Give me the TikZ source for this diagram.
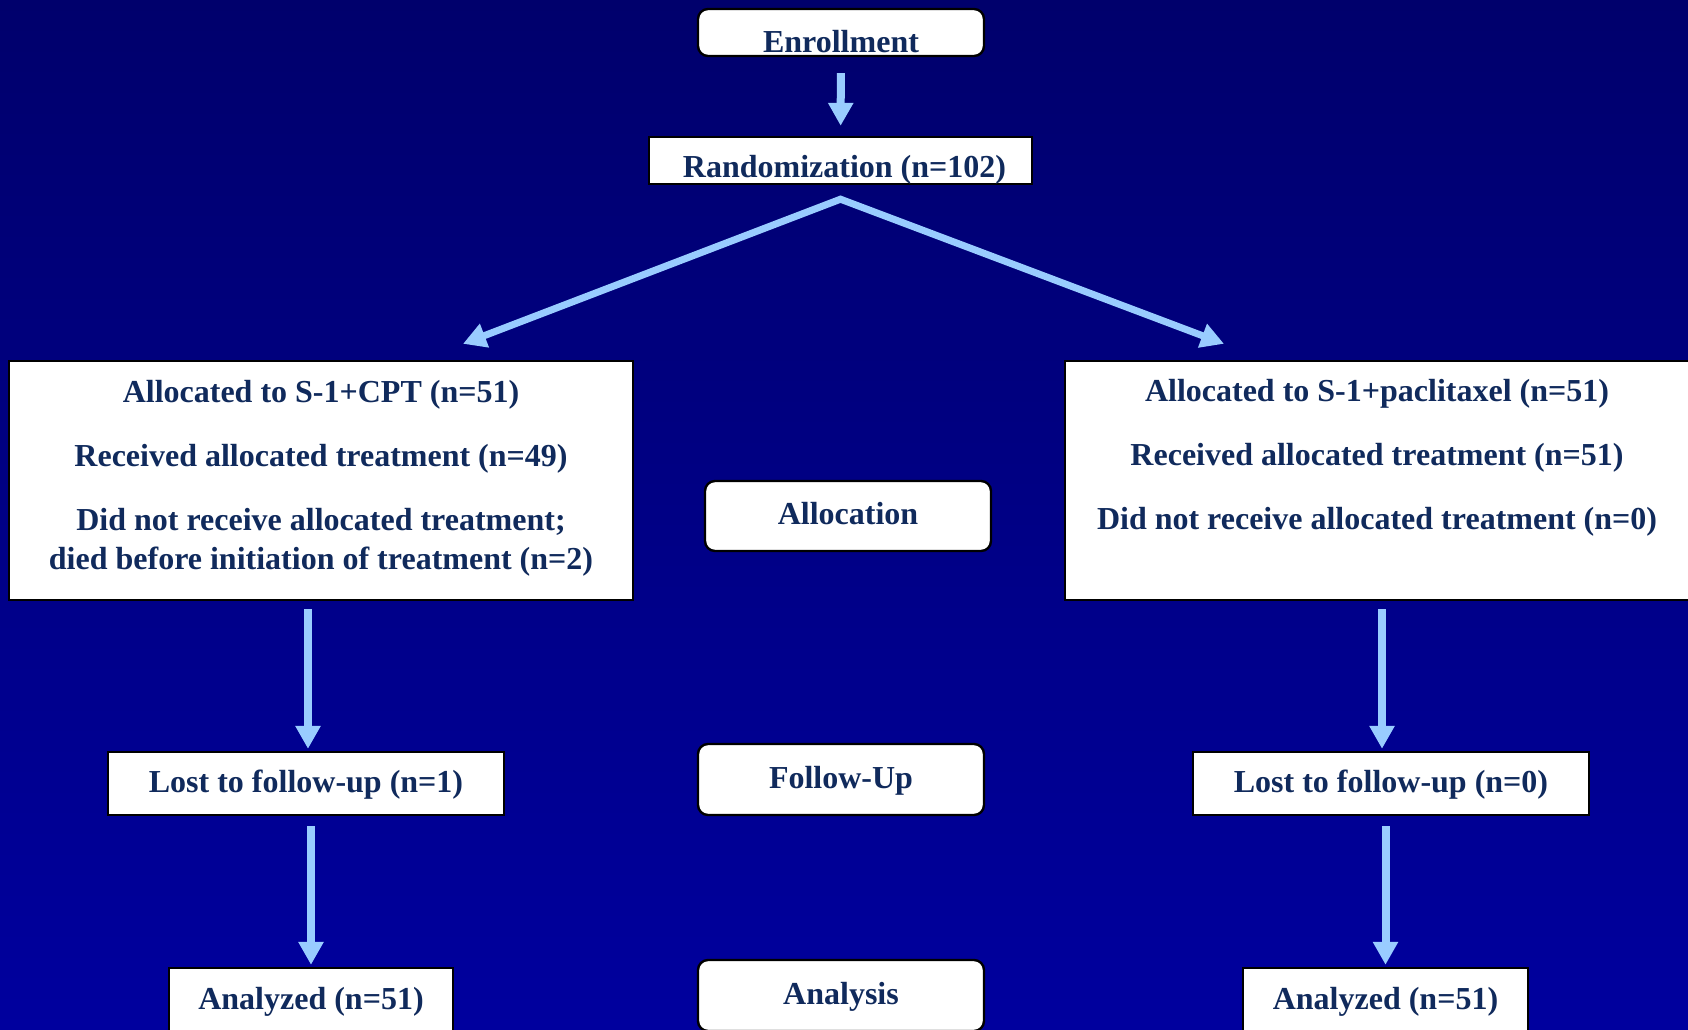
\documentclass[tikz,border=0pt]{standalone}
\usepackage{fontspec}
\setmainfont{Liberation Serif}
\usetikzlibrary{arrows.meta,calc}

\definecolor{bgtop}{RGB}{0,0,108}
\definecolor{bgbottom}{RGB}{0,0,158}
\definecolor{navytext}{RGB}{16,42,92}
\definecolor{flowblue}{RGB}{153,204,255}

\begin{document}
\begin{tikzpicture}[x=0.5pt,y=-0.5pt,
        box/.style={draw=black,line width=1.2pt,fill=white,text=navytext,inner sep=0pt,
            font=\fontsize{16}{19.5}\selectfont\bfseries},
        stage/.style={box,rounded corners=5pt},
        flow/.style={draw=flowblue,line width=4pt,-{Triangle[width=12pt,length=11.5pt]}}]

            \useasboundingbox (0,0) rectangle (1688,1029);
            \clip (0,0) rectangle (1688,1029);
            \shade[top color=bgtop,bottom color=bgbottom] (0,0) rectangle (1688,1029);

            \node[stage,minimum width=143pt,minimum height=23.5pt,text height=19.5pt,text depth=0pt] (enroll) at (841,32.5) {Enrollment};
            \node[box,minimum width=191.5pt,minimum height=23.5pt,text height=18pt,text depth=1.5pt] (rand) at (840.5,160.5) {\hspace*{4pt}Randomization (n=102)};

            \node[box,minimum width=312pt,minimum height=119.5pt,align=center,text depth=5.6pt] (cpt) at (321,480.5)
                {Allocated to S-1+CPT (n=51)\\[12.5pt] Received allocated treatment (n=49)\\[12.5pt]
                 Did not receive allocated treatment;\\ died before initiation of treatment (n=2)};
            \node[box,minimum width=312pt,minimum height=119.5pt,align=center,text depth=6.4pt] (ptx) at (1377,480.5)
                {Allocated to S-1+paclitaxel (n=51)\\[12.5pt] Received allocated treatment (n=51)\\[12.5pt]
                 Did not receive allocated treatment (n=0)\\ \mbox{}};

            \node[stage,minimum width=143pt,minimum height=35pt,text height=11.5pt,text depth=3pt] (alloc) at (848,516) {Allocation};
            \node[stage,minimum width=143pt,minimum height=35.5pt,text height=11.5pt,text depth=3pt] (follow) at (841,779.5) {Follow-Up};
            \node[stage,minimum width=143pt,minimum height=35.5pt,text height=11.5pt,text depth=3pt] (analysis) at (841,995.5) {Analysis};

            \node[box,minimum width=198pt,minimum height=31.5pt,text height=12pt,text depth=3pt] (lostcpt) at (306,783.5) {Lost to follow-up (n=1)};
            \node[box,minimum width=198pt,minimum height=31.5pt,text height=12pt,text depth=3pt] (lostptx) at (1391,783.5) {Lost to follow-up (n=0)};
            \node[box,minimum width=142pt,minimum height=31.5pt,text height=13pt,text depth=3pt] (anacpt) at (311,999.5) {Analyzed (n=51)};
            \node[box,minimum width=142.5pt,minimum height=31.5pt,text height=13pt,text depth=3pt] (anaptx) at (1385.5,999.5) {Analyzed (n=51)};

            \coordinate (split) at ($(rand.south)+(0,14)$);
            \coordinate (tipcpt) at ($(cpt.north)+(142,-16)$);
            \coordinate (tipptx) at ($(ptx.north)+(-153,-16)$);

            \draw[flow,shorten <=8pt,shorten >=5pt] (enroll) -- (rand);
            \draw[flow,line width=3.5pt,line join=miter,{Triangle[width=12pt,length=11.5pt]}-{Triangle[width=12pt,length=11.5pt]}] (tipcpt) -- (split) -- (tipptx);

            \draw[flow,shorten <=4pt,shorten >=1pt] ([xshift=1pt]lostcpt.north |- cpt.south) -- ([xshift=1pt]lostcpt.north);
            \draw[flow,shorten <=5pt,shorten >=1pt] (anacpt.north |- lostcpt.south) -- (anacpt.north);
            \draw[flow,shorten <=4pt,shorten >=1pt] ([xshift=-4.5pt]lostptx.north |- ptx.south) -- ([xshift=-4.5pt]lostptx.north);
            \draw[flow,shorten <=5pt,shorten >=1pt] (anaptx.north |- lostptx.south) -- (anaptx.north);
        \end{tikzpicture}
\end{document}
